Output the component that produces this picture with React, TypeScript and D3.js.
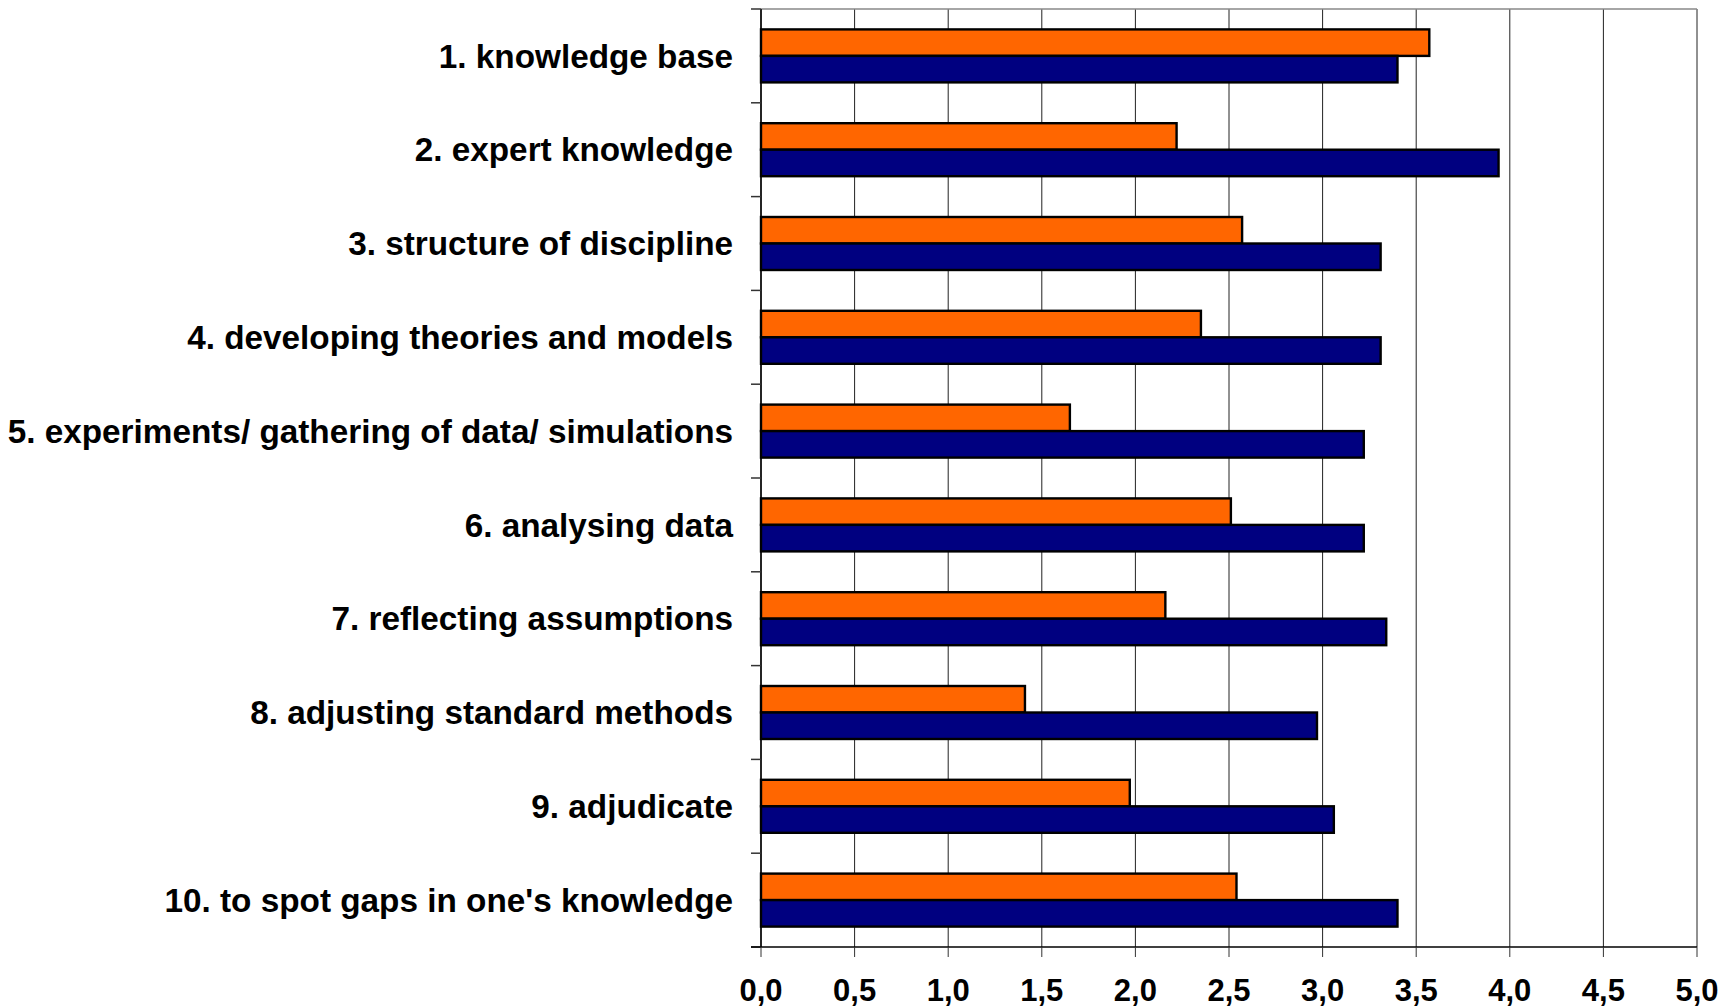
import React from "react";
import * as d3 from "d3";

const categories = [
  "1. knowledge base",
  "2. expert knowledge",
  "3. structure of discipline",
  "4. developing theories and models",
  "5. experiments/ gathering of data/ simulations",
  "6. analysing data",
  "7. reflecting assumptions",
  "8. adjusting standard methods",
  "9. adjudicate",
  "10. to spot gaps in one's knowledge",
];
const orangeValues = [3.57, 2.22, 2.57, 2.35, 1.65, 2.51, 2.16, 1.41, 1.97, 2.54];
const blueValues = [3.4, 3.94, 3.31, 3.31, 3.22, 3.22, 3.34, 2.97, 3.06, 3.4];
const xTicks = [0, 0.5, 1, 1.5, 2, 2.5, 3, 3.5, 4, 4.5, 5];
const seriesKeys = ["orange", "blue"];
const seriesColors = ["#FF6600", "#000080"];

const W = 1727;
const H = 1008;
const left = 761;
const right = 1697;
const top = 9;
const bottom = 947;

export default function App() {
  const x = d3.scaleLinear().domain([0, 5]).range([left, right]);
  const y = d3.scaleBand<string>().domain(categories).range([top, bottom]).paddingInner(0.435).paddingOuter(0.2175);
  const band = (bottom - top) / categories.length;
  const sub = d3.scaleBand<string>().domain(seriesKeys).range([0, y.bandwidth()]);
  const data = categories.map((c, i) => ({ c, vals: [orangeValues[i], blueValues[i]] }));
  const fmt = (v: number) => v.toFixed(1).replace(".", ",");
  return (
    <svg width={W} height={H} style={{ position: "absolute", left: 0, top: 0, background: "#fff" }}
      fontFamily="'Liberation Sans', Arial, sans-serif">
      {/* grid */}
      {xTicks.map((t) => (
        <line key={"g" + t} x1={x(t)} x2={x(t)} y1={top} y2={bottom} stroke="#222" strokeWidth={1} />
      ))}
      <line x1={left} x2={right} y1={top} y2={top} stroke="#888" strokeWidth={1.5} />
      {/* bars */}
      {data.map((d) => (
        <g key={d.c}>
          {d.vals.map((v, j) => (
            <rect key={j} x={x(0)} y={(y(d.c) as number) + (sub(seriesKeys[j]) as number)}
              width={x(v) - x(0)} height={sub.bandwidth()}
              fill={seriesColors[j]} stroke="#000" strokeWidth={2.4} />
          ))}
        </g>
      ))}
      {/* left axis */}
      <line x1={left} x2={left} y1={top} y2={bottom} stroke="#000" strokeWidth={1.5} />
      {d3.range(categories.length + 1).map((i) => (
        <line key={"lt" + i} x1={left - 10} x2={left} y1={top + i * band} y2={top + i * band} stroke="#333" strokeWidth={1.5} />
      ))}
      {/* bottom axis */}
      <line x1={left - 10} x2={right} y1={bottom} y2={bottom} stroke="#000" strokeWidth={1.5} />
      {xTicks.map((t) => (
        <line key={"bt" + t} x1={x(t)} x2={x(t)} y1={bottom} y2={bottom + 10} stroke="#333" strokeWidth={1} />
      ))}
      {xTicks.map((t) => (
        <text key={"tl" + t} x={x(t)} y={1001} textAnchor="middle" fontWeight="bold" fontSize={31}>
          {fmt(t)}
        </text>
      ))}
      {categories.map((c) => (
        <text key={"cl" + c} x={733} y={(y(c) as number) + y.bandwidth() / 2} dy="0.35em" textAnchor="end"
          fontWeight="bold" fontSize={33.3}>
          {c}
        </text>
      ))}
    </svg>
  );
}
